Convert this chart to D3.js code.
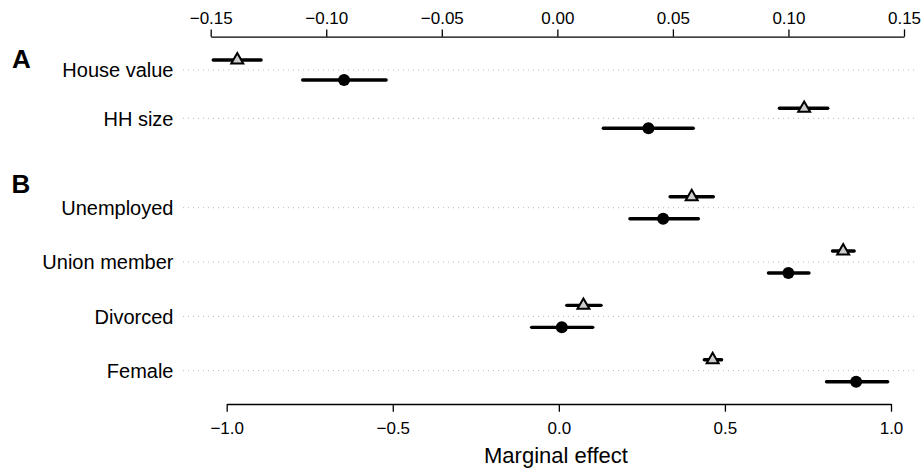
<!DOCTYPE html>
<html>
<head>
<meta charset="utf-8">
<script src="https://cdn.jsdelivr.net/npm/d3@7"></script>
<style>
  body { margin: 0; background: #fff; }
  svg { display: block; font-family: "Liberation Sans", Arial, Helvetica, sans-serif; }
</style>
</head>
<body>
<svg id="chart" width="923" height="471"></svg>
<script>
// panel A (top axis)
const catsA = ["House value", "HH size"];
const triA = [-0.1385, 0.1068];
const triALo = [-0.1489, 0.0961];
const triAHi = [-0.1282, 0.1170];
const dotA = [-0.0923, 0.0394];
const dotALo = [-0.1102, 0.0199];
const dotAHi = [-0.0741, 0.0588];
const ticksA = [-0.15, -0.10, -0.05, 0.00, 0.05, 0.10, 0.15];

// panel B (bottom axis)
const catsB = ["Unemployed", "Union member", "Divorced", "Female"];
const triB = [0.400, 0.856, 0.074, 0.463];
const triBLo = [0.335, 0.824, 0.024, 0.438];
const triBHi = [0.465, 0.889, 0.127, 0.490];
const dotB = [0.314, 0.691, 0.009, 0.895];
const dotBLo = [0.214, 0.631, -0.082, 0.806];
const dotBHi = [0.420, 0.753, 0.102, 0.990];
const ticksB = [-1.0, -0.5, 0.0, 0.5, 1.0];

const svg = d3.select("#chart");
const fmtMinus = s => s.replace("-", "\u2212");

const xA = d3.scaleLinear().domain([-0.15, 0.15]).range([210.7, 904]);
const xB = d3.scaleLinear().domain([-1, 1]).range([226.7, 891]);
const yA = d3.scalePoint().domain(catsA).range([70, 118.3]);
const yB = d3.scalePoint().domain(catsB).range([207.7, 370.7]);

const gridX0 = 183, gridX1 = 915;

// axes
const axTop = svg.append("g")
    .attr("transform", "translate(0,36.7)")
    .call(d3.axisTop(xA).tickValues(ticksA).tickSize(7.3).tickSizeOuter(0).tickPadding(5)
      .tickFormat(d => fmtMinus(d3.format(".2f")(d))));
const axBot = svg.append("g")
    .attr("transform", "translate(0,404)")
    .call(d3.axisBottom(xB).tickValues(ticksB).tickSize(7.7).tickSizeOuter(0).tickPadding(10)
      .tickFormat(d => fmtMinus(d3.format(".1f")(d))));
[axTop, axBot].forEach(g => {
  g.selectAll("path, line").attr("stroke", "#000").attr("stroke-width", 1.3);
  g.selectAll("text").attr("font-size", 17).attr("fill", "#000")
    .attr("font-family", "'Liberation Sans', Arial, Helvetica, sans-serif");
});

svg.append("text")
    .attr("x", 556).attr("y", 463)
    .attr("text-anchor", "middle")
    .attr("font-size", 22)
    .text("Marginal effect");

// panel letters
svg.append("text").attr("x", 12).attr("y", 68.3)
    .attr("font-size", 26).attr("font-weight", "bold").text("A");
svg.append("text").attr("x", 11.5).attr("y", 193.3)
    .attr("font-size", 26).attr("font-weight", "bold").text("B");

function drawPanel(cats, y, x, off, tri, triLo, triHi, dot, dotLo, dotHi) {
  const g = svg.append("g");
  g.selectAll("line.grid").data(cats).enter().append("line")
      .attr("class", "grid")
      .attr("x1", gridX0).attr("x2", gridX1)
      .attr("y1", d => y(d)).attr("y2", d => y(d))
      .attr("stroke", "#b8b8b8").attr("stroke-width", 1)
      .attr("stroke-dasharray", "1,4");

  g.selectAll("text.lab").data(cats).enter().append("text")
      .attr("class", "lab")
      .attr("x", 173.5).attr("y", d => y(d))
      .attr("dy", "0.36em")
      .attr("text-anchor", "end")
      .attr("font-size", 20)
      .text(d => d);

  // whiskers
  cats.forEach((c, i) => {
    g.append("line")
        .attr("x1", x(triLo[i])).attr("x2", x(triHi[i]))
        .attr("y1", y(c) - off).attr("y2", y(c) - off)
        .attr("stroke", "#000").attr("stroke-width", 3.4).attr("stroke-linecap", "round");
    g.append("line")
        .attr("x1", x(dotLo[i])).attr("x2", x(dotHi[i]))
        .attr("y1", y(c) + off).attr("y2", y(c) + off)
        .attr("stroke", "#000").attr("stroke-width", 3.4).attr("stroke-linecap", "round");
  });

  g.selectAll("path.tri").data(cats).enter().append("path")
      .attr("class", "tri")
      .attr("d", d3.symbol(d3.symbolTriangle, 62))
      .attr("transform", (d, i) => `translate(${x(tri[i])},${y(d) - off})`)
      .attr("fill", "#cccccc").attr("stroke", "#000").attr("stroke-width", 2);

  g.selectAll("circle.dot").data(cats).enter().append("circle")
      .attr("class", "dot")
      .attr("cx", (d, i) => x(dot[i]))
      .attr("cy", d => y(d) + off)
      .attr("r", 6)
      .attr("fill", "#000");
}

drawPanel(catsA, yA, xA, 10, triA, triALo, triAHi, dotA, dotALo, dotAHi);
drawPanel(catsB, yB, xB, 11, triB, triBLo, triBHi, dotB, dotBLo, dotBHi);
</script>
</body>
</html>
